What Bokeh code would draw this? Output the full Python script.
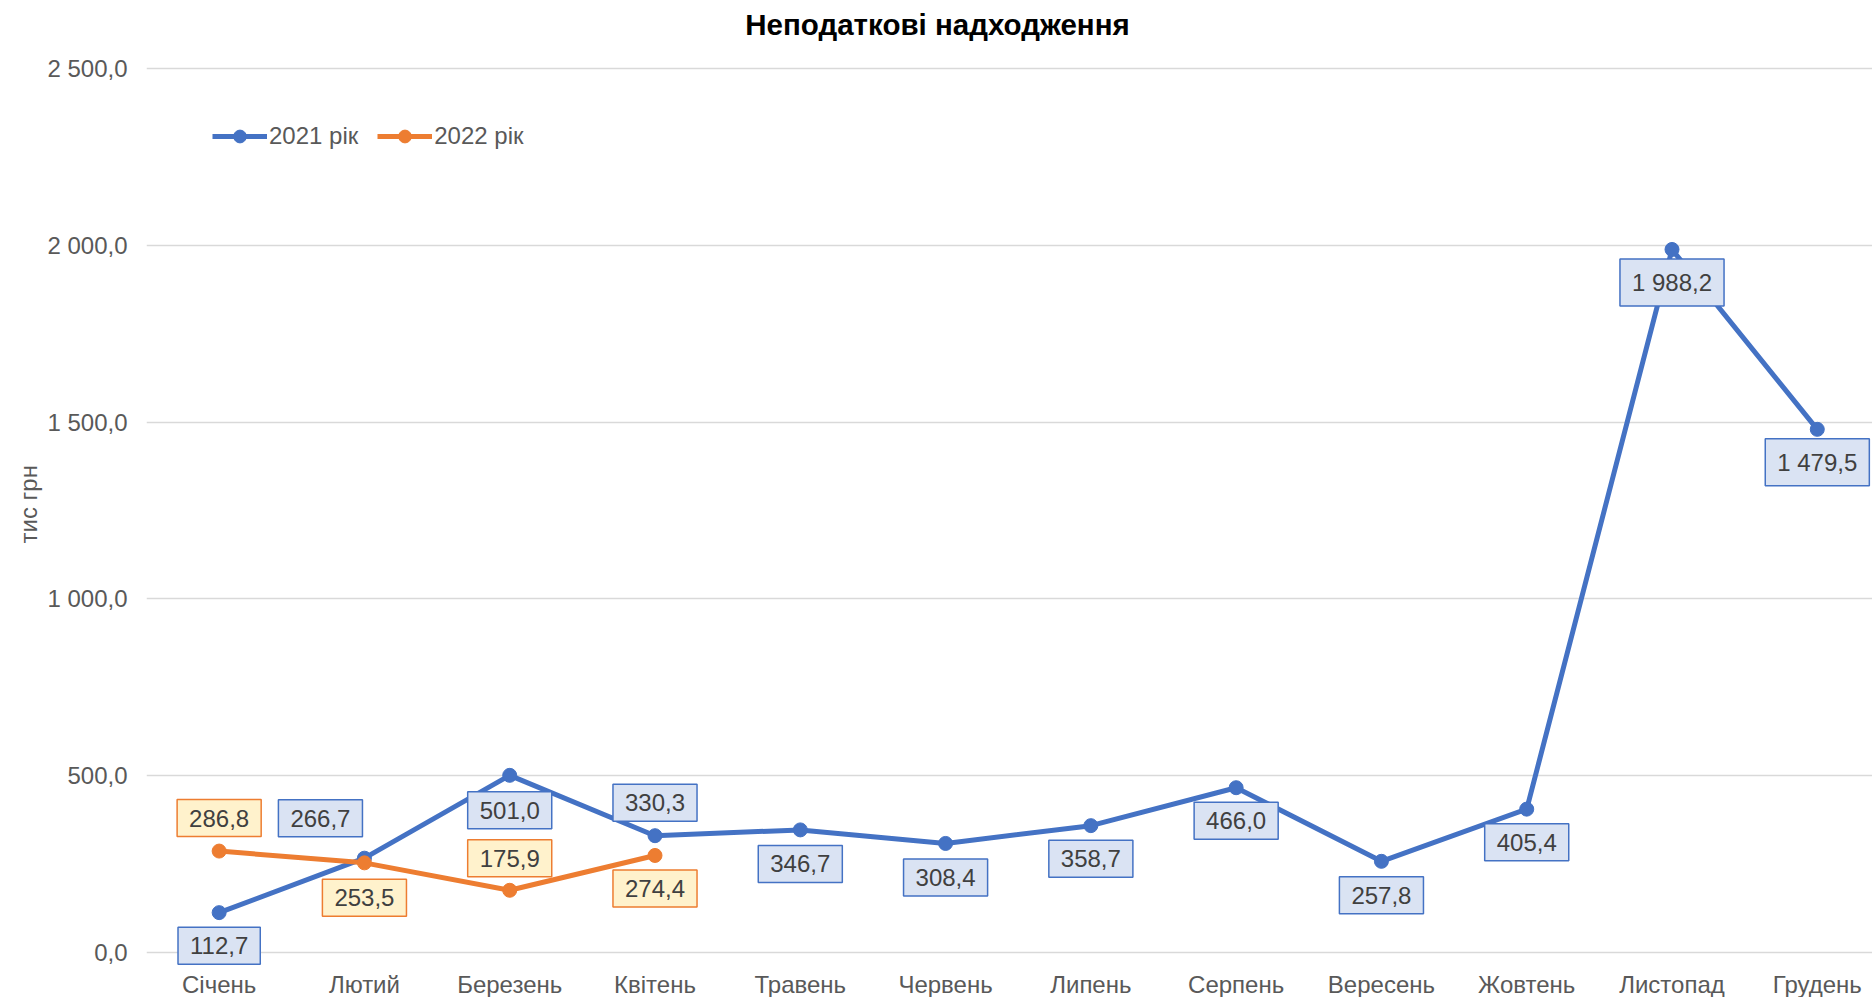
from bokeh.plotting import figure
from bokeh.models import Range1d, FixedTicker, Label, Legend, LegendItem, Title
from bokeh.embed import file_html
from bokeh.resources import INLINE

# ---- data ----
title_text = "Неподаткові надходження"
y_title = "тис грн"
months = ["Січень", "Лютий", "Березень", "Квітень", "Травень", "Червень",
          "Липень", "Серпень", "Вересень", "Жовтень", "Листопад", "Грудень"]
v2021 = [112.7, 266.7, 501.0, 330.3, 346.7, 308.4, 358.7, 466.0, 257.8, 405.4, 1988.2, 1479.5]
v2022 = [286.8, 253.5, 175.9, 274.4]
y_ticks = [0, 500, 1000, 1500, 2000, 2500]
series_names = ["2021 рік", "2022 рік"]

# label placement (screen px offsets relative to the point)
off2021 = [(0, -33), (-44, 40), (0, -35), (0, 33), (0, -34), (0, -34),
           (0, -33), (0, -33), (0, -34), (0, -33), (0, -33), (0, -33)]
off2022 = [(0, 33), (0, -35), (0, 32), (0, -33)]

FONT = "Liberation Sans"
BLUE = "#4472C4"
ORANGE = "#ED7D31"
FS = "24px"
FRAME_W, FRAME_H = 1726, 965


def fmt(v):
    return f"{v:,.1f}".replace(",", " ").replace(".", ",")


p = figure(frame_width=FRAME_W, frame_height=FRAME_H, output_backend="svg",
           toolbar_location=None,
           x_range=Range1d(-0.5, 11.38), y_range=Range1d(-36.8, 2692.3),
           min_border_left=146, min_border_right=0, min_border_top=0,
           min_border_bottom=0)
p.outline_line_color = None
p.background_fill_color = "white"

# chart title (top of the drawing area)
p.add_layout(Label(x=791, y=FRAME_H - 24, x_units="screen", y_units="screen",
                   text=title_text, text_font=FONT, text_font_size="29.5px",
                   text_font_style="bold", text_color="#000000",
                   text_align="center", text_baseline="middle"))

# axes
p.xaxis.ticker = FixedTicker(ticks=list(range(len(months))))
p.xaxis.major_label_overrides = {i: m for i, m in enumerate(months)}
p.xaxis.major_tick_line_color = None
p.xaxis.minor_tick_line_color = None
p.xaxis.axis_line_color = None
p.xaxis.major_label_standoff = -1
p.xaxis.major_label_text_font = FONT
p.xaxis.major_label_text_font_size = FS
p.xaxis.major_label_text_color = "#595959"

p.yaxis.ticker = FixedTicker(ticks=y_ticks)
p.yaxis.major_label_overrides = {t: fmt(t) for t in y_ticks}
p.yaxis.major_tick_line_color = None
p.yaxis.minor_tick_line_color = None
p.yaxis.axis_line_color = None
p.yaxis.major_label_standoff = 13
p.yaxis.major_label_text_font = FONT
p.yaxis.major_label_text_font_size = FS
p.yaxis.major_label_text_color = "#595959"

# y-axis title, aligned on the value scale (not the full drawing area)
p.add_layout(Title(text=y_title, align="left", offset=422, vertical_align="middle",
                   standoff=4, text_font=FONT, text_font_size=FS,
                   text_font_style="normal", text_color="#595959"), "left")

p.xgrid.grid_line_color = None
p.ygrid.grid_line_color = "#D9D9D9"
p.ygrid.grid_line_width = 1.3

x21 = list(range(len(v2021)))
x22 = list(range(len(v2022)))

l1 = p.line(x21, v2021, line_color=BLUE, line_width=5)
s1 = p.scatter(x21, v2021, size=14, fill_color=BLUE, line_color=BLUE)
l2 = p.line(x22, v2022, line_color=ORANGE, line_width=5)
s2 = p.scatter(x22, v2022, size=14, fill_color=ORANGE, line_color=ORANGE)


def add_labels(xs, vals, offs, fill, border):
    for x, v, (dx, dy) in zip(xs, vals, offs):
        p.add_layout(Label(x=x, y=v, x_offset=dx, y_offset=dy, text=fmt(v),
                           text_font=FONT, text_font_size=FS, text_color="#404040",
                           text_align="center", text_baseline="middle",
                           background_fill_color=fill, border_line_color=border,
                           border_line_width=1.5,
                           padding=dict(left=12, right=12, top=10, bottom=10)))


add_labels(x21, v2021, off2021, "#DAE3F3", BLUE)
add_labels(x22, v2022, off2022, "#FFF2CC", ORANGE)

legend = Legend(items=[LegendItem(label=series_names[0], renderers=[l1, s1]),
                       LegendItem(label=series_names[1], renderers=[l2, s2])],
                orientation="horizontal", location=(66, 813),
                glyph_width=55, glyph_height=32, label_standoff=2, spacing=19,
                padding=0, margin=0, border_line_color=None,
                background_fill_alpha=0,
                label_text_font=FONT, label_text_font_size=FS,
                label_text_color="#595959")
p.add_layout(legend)

open("out.html", "w").write(file_html(p, INLINE))
